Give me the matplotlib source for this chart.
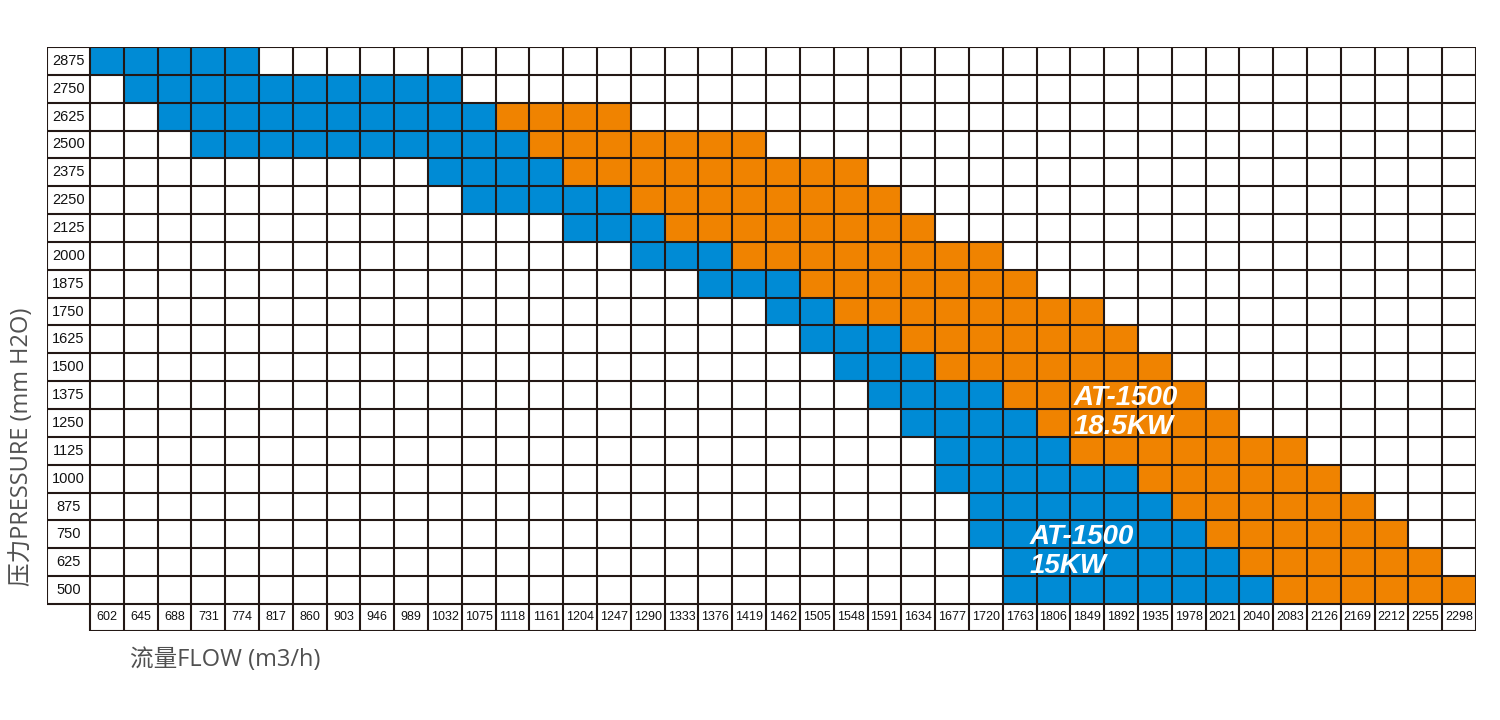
import matplotlib.pyplot as plt

plt.rcParams['font.family'] = ['Liberation Sans', 'DejaVu Sans']

# pressure rows, top to bottom
pressure = [2875, 2750, 2625, 2500, 2375, 2250, 2125, 2000, 1875, 1750,
            1625, 1500, 1375, 1250, 1125, 1000, 875, 750, 625, 500]
flow = [602, 645, 688, 731, 774, 817, 860, 903, 946, 989, 1032, 1075, 1118,
        1161, 1204, 1247, 1290, 1333, 1376, 1419, 1462, 1505, 1548, 1591,
        1634, 1677, 1720, 1763, 1806, 1849, 1892, 1935, 1978, 2021, 2040,
        2083, 2126, 2169, 2212, 2255, 2298]

# column index ranges (inclusive) of coloured cells per row
blue_first = [0, 1, 2, 3, 10, 11, 14, 16, 18, 20, 21, 22, 23, 24, 25, 25, 26, 26, 27, 27]
blue_last = [4, 10, 11, 12, 13, 15, 16, 18, 20, 21, 23, 24, 26, 27, 28, 30, 31, 32, 33, 34]
orange_first = [None, None, 12, 13, 14, 16, 17, 19, 21, 22, 24, 25, 27, 28, 29, 31, 32, 33, 34, 35]
orange_last = [None, None, 15, 19, 22, 23, 24, 26, 27, 29, 30, 31, 32, 33, 35, 36, 37, 38, 39, 40]

BLUE = '#008BD5'
ORANGE = '#F08300'
LINE = '#231815'

nrow = len(pressure)
ncol = len(flow)
lab_w = 1.272   # width of pressure label column, in cell units
lab_h = 0.97    # height of flow label row

fig = plt.figure(figsize=(15, 7.2), dpi=100)
ax = fig.add_axes([47 / 1500, 1 - 631 / 720, (1476 - 47) / 1500, (631 - 47) / 720])
ax.set_xlim(-lab_w, ncol)
ax.set_ylim(-lab_h, nrow)
ax.axis('off')

for i in range(nrow):
    yb = nrow - 1 - i
    ax.barh(yb, blue_last[i] - blue_first[i] + 1, left=blue_first[i], height=1,
            align='edge', color=BLUE, linewidth=0)
    if orange_first[i] is not None:
        ax.barh(yb, orange_last[i] - orange_first[i] + 1, left=orange_first[i],
                height=1, align='edge', color=ORANGE, linewidth=0)
    ax.text(-lab_w / 2, yb + 0.5, str(pressure[i]), ha='center', va='center',
            fontsize=10.5, color='#111111')

for j, f in enumerate(flow):
    ax.text(j + 0.5, -lab_h / 2, str(f), ha='center', va='center',
            fontsize=9, color='#111111')

# grid
lw = 1.5
for j in range(ncol + 1):
    ax.vlines(j, -lab_h, nrow, color=LINE, lw=lw)
ax.vlines(-lab_w, 0, nrow, color=LINE, lw=lw)
for r in range(nrow + 1):
    ax.hlines(r, -lab_w, ncol, color=LINE, lw=lw)
ax.hlines(-lab_h, 0, ncol, color=LINE, lw=lw)

ax.text(29.1, 6.87, 'AT-1500\n18.5KW', color='white', fontsize=20,
        fontweight='bold', fontstyle='italic', ha='left', va='center',
        linespacing=1.12)
ax.text(27.8, 1.885, 'AT-1500\n15KW', color='white', fontsize=20,
        fontweight='bold', fontstyle='italic', ha='left', va='center',
        linespacing=1.12)

lab_font = ['Open Sans', 'Noto Sans CJK SC', 'DejaVu Sans']
fig.text(22 / 1500, 1 - 447 / 720, '压力PRESSURE (mm H2O)', rotation=90,
         ha='center', va='center', fontsize=17, color='#505050', family=lab_font)
fig.text(130 / 1500, 1 - 660 / 720, '流量FLOW (m3/h)', ha='left',
         va='center', fontsize=17, color='#505050', family=lab_font)

fig.savefig('out.png', dpi=100, facecolor='white')
